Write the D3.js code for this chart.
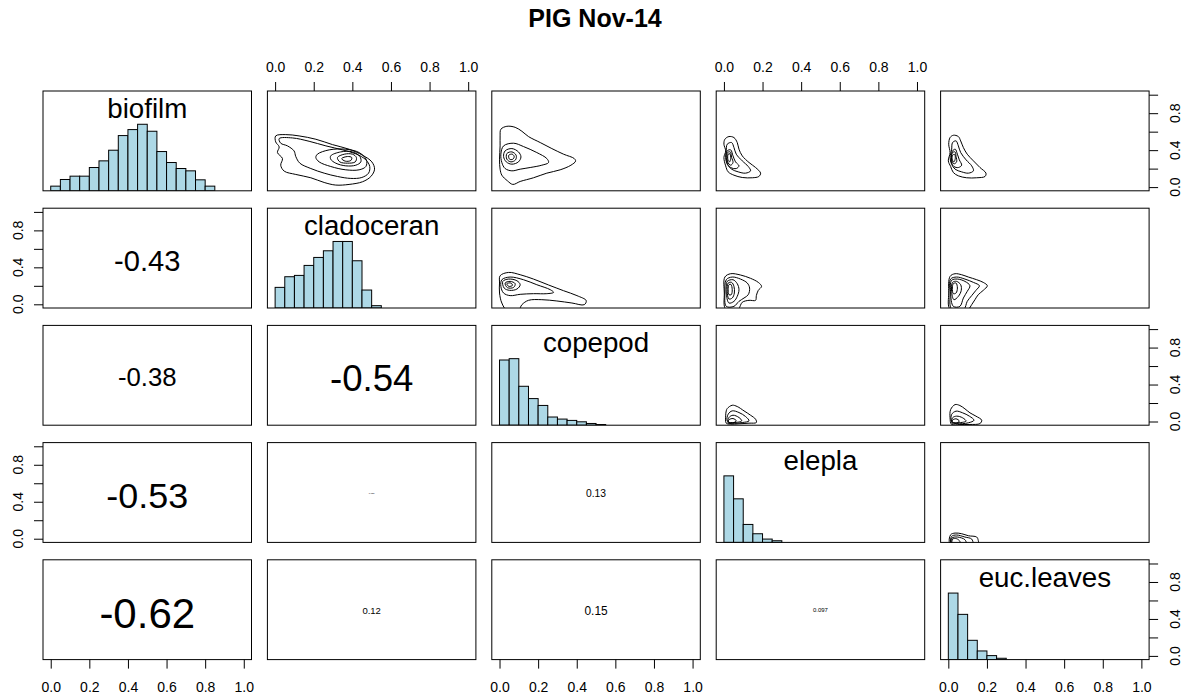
<!DOCTYPE html>
<html><head><meta charset="utf-8">
<script src="https://cdn.jsdelivr.net/npm/d3@7"></script>
<style>
body{margin:0;background:#fff}
svg{display:block}
text{font-family:"Liberation Sans",Arial,Helvetica,sans-serif;fill:#000}
</style>
</head><body>
<svg id="chart" width="1190" height="698"></svg>
<script>
// ---------------- data ----------------
const title = "PIG Nov-14";
const variables = ["biofilm", "cladoceran", "copepod", "elepla", "euc.leaves"];
const tickValues = [0, 0.2, 0.4, 0.6, 0.8, 1.0];
const xTickLabels = ["0.0", "0.2", "0.4", "0.6", "0.8", "1.0"];
const yLabelValues = [0, 0.4, 0.8];
const yTickLabels = ["0.0", "0.4", "0.8"];

// histograms: bin width 0.05 starting at 0, relative counts (max = 100)
const histBreakWidth = 0.05;
const histBiofilm = [7, 17, 22, 22, 35, 45, 61, 83, 92, 100, 89.5, 59, 42.5, 33.5, 30, 16.5, 7];
const histCladoceran = [31, 47, 49, 64, 76, 86, 100, 100, 71, 27, 3.5];
const histCopepod = [98, 100, 58.5, 40, 29.7, 12.3, 9.2, 7.2, 5.1, 2.6, 1];
const histElepla = [100, 65.5, 27, 13, 5, 2.5];
const histEucLeaves = [100, 68, 29, 13, 6, 2];

// lower panels: correlations (row, col)
const corRows = [1, 2, 2, 3, 3, 3, 4, 4, 4, 4];
const corCols = [0, 0, 1, 0, 1, 2, 0, 1, 2, 3];
const corValues = [-0.43, -0.38, -0.54, -0.53, 0.039, 0.13, -0.62, 0.12, 0.15, 0.097];
const corLabels = ["-0.43", "-0.38", "-0.54", "-0.53", "0.039", "0.13", "-0.62", "0.12", "0.15", "0.097"];

// upper panels: 2D density contour rings, [x, y] in data units
const contourBiofilmCladoceran = [
  [[0.003,0.554],[0.055,0.568],[0.124,0.554],[0.211,0.518],[0.297,0.460],[0.383,0.410],[0.453,0.345],[0.501,0.273],[0.515,0.194],[0.496,0.115],[0.453,0.058],[0.383,0.029],[0.314,0.022],[0.254,0.050],[0.185,0.101],[0.107,0.137],[0.047,0.173],[0.029,0.237],[0.038,0.309],[0.012,0.374],[0.021,0.435],[0.003,0.489]],
  [[0.021,0.525],[0.090,0.532],[0.176,0.496],[0.263,0.446],[0.349,0.403],[0.418,0.360],[0.470,0.295],[0.490,0.223],[0.484,0.151],[0.449,0.104],[0.392,0.094],[0.323,0.115],[0.254,0.151],[0.185,0.201],[0.128,0.259],[0.107,0.331],[0.098,0.392],[0.064,0.446],[0.029,0.475]],
  [[0.219,0.356],[0.280,0.403],[0.366,0.410],[0.435,0.374],[0.473,0.295],[0.470,0.223],[0.435,0.187],[0.366,0.187],[0.288,0.223],[0.228,0.273],[0.211,0.320]],
  [[0.288,0.338],[0.340,0.381],[0.401,0.381],[0.439,0.331],[0.444,0.273],[0.418,0.237],[0.366,0.230],[0.314,0.259],[0.288,0.302]],
  [[0.323,0.320],[0.358,0.356],[0.401,0.356],[0.421,0.320],[0.415,0.273],[0.375,0.259],[0.335,0.273]],
  [[0.345,0.309],[0.375,0.331],[0.397,0.320],[0.392,0.288],[0.363,0.281]]
];
const contourBiofilmCopepod = [
  [[0.007,0.626],[0.038,0.658],[0.081,0.647],[0.116,0.604],[0.150,0.547],[0.211,0.482],[0.271,0.417],[0.332,0.356],[0.387,0.309],[0.394,0.281],[0.370,0.237],[0.314,0.187],[0.245,0.151],[0.176,0.101],[0.107,0.061],[0.069,0.029],[0.041,0.068],[0.012,0.129],[0.003,0.194],[0.000,0.302],[0.003,0.446],[0.003,0.554]],
  [[0.021,0.446],[0.073,0.475],[0.124,0.439],[0.193,0.374],[0.245,0.309],[0.254,0.266],[0.219,0.237],[0.159,0.212],[0.107,0.194],[0.064,0.176],[0.029,0.201],[0.012,0.266],[0.007,0.356]],
  [[0.029,0.392],[0.064,0.417],[0.098,0.381],[0.111,0.327],[0.098,0.273],[0.064,0.248],[0.035,0.273],[0.021,0.331]],
  [[0.038,0.363],[0.064,0.381],[0.086,0.345],[0.083,0.295],[0.059,0.273],[0.038,0.302]],
  [[0.048,0.345],[0.066,0.356],[0.076,0.331],[0.069,0.302],[0.052,0.302]]
];
const contourBiofilmElepla = [
  [[0.005,0.518],[0.026,0.547],[0.052,0.536],[0.069,0.482],[0.078,0.410],[0.095,0.338],[0.130,0.266],[0.164,0.212],[0.190,0.151],[0.181,0.115],[0.147,0.101],[0.095,0.104],[0.052,0.129],[0.022,0.165],[0.009,0.230],[0.000,0.320],[0.009,0.392],[0.000,0.464]],
  [[0.017,0.464],[0.040,0.482],[0.052,0.428],[0.064,0.356],[0.095,0.284],[0.126,0.223],[0.138,0.176],[0.112,0.151],[0.074,0.165],[0.040,0.194],[0.017,0.248],[0.009,0.320],[0.012,0.392]],
  [[0.017,0.392],[0.035,0.403],[0.047,0.338],[0.060,0.273],[0.078,0.230],[0.064,0.201],[0.035,0.212],[0.017,0.259],[0.012,0.320]],
  [[0.019,0.374],[0.033,0.381],[0.040,0.320],[0.047,0.266],[0.035,0.237],[0.019,0.273],[0.016,0.331]],
  [[0.022,0.356],[0.031,0.360],[0.035,0.309],[0.029,0.273],[0.021,0.295]]
];
const contourBiofilmEucLeaves = [
  [[0.009,0.536],[0.026,0.561],[0.052,0.547],[0.064,0.500],[0.078,0.428],[0.098,0.356],[0.130,0.284],[0.164,0.212],[0.195,0.151],[0.190,0.115],[0.147,0.101],[0.095,0.101],[0.052,0.122],[0.026,0.158],[0.012,0.223],[0.000,0.284],[0.009,0.374],[0.002,0.464]],
  [[0.022,0.482],[0.040,0.500],[0.052,0.446],[0.064,0.374],[0.092,0.295],[0.121,0.230],[0.130,0.176],[0.104,0.151],[0.069,0.165],[0.035,0.194],[0.017,0.248],[0.009,0.320],[0.017,0.403]],
  [[0.022,0.392],[0.036,0.410],[0.047,0.356],[0.057,0.295],[0.069,0.237],[0.052,0.212],[0.029,0.223],[0.016,0.273],[0.016,0.338]],
  [[0.022,0.374],[0.035,0.381],[0.040,0.331],[0.043,0.273],[0.029,0.252],[0.017,0.295],[0.017,0.345]],
  [[0.022,0.345],[0.033,0.353],[0.036,0.309],[0.029,0.273],[0.021,0.295]]
];
const contourCladoceranCopepod = [
  [[0.003,0.309],[0.047,0.345],[0.107,0.320],[0.176,0.273],[0.254,0.209],[0.332,0.147],[0.401,0.094],[0.449,0.040],[0.439,-0.004],[0.375,0.014],[0.297,0.036],[0.219,0.050],[0.150,0.043],[0.116,-0.004],[0.098,-0.065],[0.038,-0.065],[0.012,0.014],[0.000,0.122],[0.000,0.230]],
  [[0.012,0.266],[0.055,0.295],[0.124,0.266],[0.193,0.212],[0.263,0.158],[0.280,0.129],[0.245,0.115],[0.176,0.115],[0.107,0.108],[0.055,0.094],[0.021,0.122],[0.007,0.194]],
  [[0.017,0.248],[0.047,0.273],[0.090,0.255],[0.107,0.212],[0.090,0.165],[0.052,0.151],[0.024,0.176]],
  [[0.029,0.230],[0.055,0.248],[0.081,0.223],[0.073,0.183],[0.041,0.180]],
  [[0.038,0.223],[0.059,0.230],[0.067,0.205],[0.048,0.194]]
];
const contourCladoceranElepla = [
  [[0.005,0.295],[0.035,0.331],[0.086,0.317],[0.138,0.281],[0.178,0.237],[0.195,0.194],[0.178,0.151],[0.168,0.094],[0.164,0.043],[0.130,0.043],[0.095,0.022],[0.074,-0.050],[0.009,-0.050],[0.002,0.122]],
  [[0.012,0.266],[0.043,0.295],[0.086,0.273],[0.121,0.230],[0.133,0.176],[0.126,0.104],[0.104,0.068],[0.078,0.032],[0.052,-0.022],[0.012,-0.022],[0.005,0.122]],
  [[0.017,0.248],[0.047,0.266],[0.069,0.223],[0.078,0.158],[0.069,0.086],[0.052,0.032],[0.026,0.014],[0.012,0.122],[0.012,0.194]],
  [[0.022,0.230],[0.040,0.237],[0.052,0.194],[0.054,0.122],[0.043,0.068],[0.026,0.058],[0.017,0.140]],
  [[0.026,0.212],[0.036,0.216],[0.043,0.158],[0.038,0.104],[0.026,0.104],[0.022,0.158]]
];
const contourCladoceranEucLeaves = [
  [[0.009,0.302],[0.035,0.331],[0.069,0.320],[0.104,0.295],[0.147,0.266],[0.181,0.237],[0.202,0.201],[0.181,0.151],[0.155,0.104],[0.138,0.050],[0.121,-0.004],[0.104,-0.050],[0.009,-0.050],[0.002,0.122]],
  [[0.012,0.273],[0.043,0.295],[0.086,0.273],[0.130,0.237],[0.161,0.201],[0.143,0.151],[0.121,0.094],[0.098,0.032],[0.081,-0.050],[0.017,-0.050],[0.009,0.122]],
  [[0.017,0.259],[0.047,0.273],[0.086,0.248],[0.112,0.201],[0.098,0.140],[0.078,0.068],[0.060,-0.022],[0.026,-0.022],[0.012,0.122]],
  [[0.022,0.237],[0.043,0.248],[0.064,0.212],[0.067,0.151],[0.052,0.086],[0.029,0.050],[0.017,0.140]],
  [[0.026,0.223],[0.040,0.230],[0.047,0.176],[0.040,0.122],[0.026,0.115],[0.021,0.176]]
];
const contourCopepodElepla = [
  [[0.017,0.140],[0.043,0.176],[0.069,0.162],[0.104,0.115],[0.138,0.068],[0.164,0.025],[0.168,-0.011],[0.130,-0.018],[0.078,-0.025],[0.035,-0.029],[0.012,-0.018],[0.009,0.061],[0.012,0.115]],
  [[0.022,0.079],[0.043,0.115],[0.078,0.097],[0.112,0.054],[0.130,0.007],[0.095,-0.011],[0.043,-0.018],[0.017,0.007]],
  [[0.026,0.043],[0.047,0.068],[0.078,0.043],[0.092,0.007],[0.052,-0.011],[0.022,-0.004]],
  [[0.026,0.018],[0.047,0.032],[0.064,0.007],[0.043,-0.018],[0.022,-0.018]]
];
const contourCopepodEucLeaves = [
  [[0.012,0.129],[0.035,0.183],[0.060,0.173],[0.086,0.137],[0.112,0.094],[0.143,0.058],[0.173,0.014],[0.164,-0.022],[0.112,-0.032],[0.060,-0.032],[0.017,-0.032],[0.009,0.040]],
  [[0.017,0.076],[0.040,0.112],[0.074,0.094],[0.109,0.058],[0.133,0.014],[0.104,-0.014],[0.043,-0.022],[0.017,0.004]],
  [[0.022,0.040],[0.043,0.058],[0.074,0.040],[0.092,0.004],[0.043,-0.014],[0.019,-0.007]],
  [[0.022,0.014],[0.040,0.029],[0.057,0.004],[0.035,-0.022],[0.019,-0.022]]
];
const contourEleplaEucLeaves = [
  [[0.012,0.043],[0.035,0.061],[0.069,0.054],[0.104,0.032],[0.147,0.018],[0.155,-0.018],[0.155,-0.054],[0.009,-0.054]],
  [[0.017,0.025],[0.043,0.040],[0.086,0.018],[0.121,-0.004],[0.126,-0.054],[0.016,-0.054]],
  [[0.019,0.007],[0.047,0.018],[0.086,-0.011],[0.092,-0.054],[0.017,-0.054]],
  [[0.022,-0.004],[0.043,0.000],[0.060,-0.029],[0.060,-0.054],[0.021,-0.054]]
];

// ---------------- assembly ----------------
const histograms = [histBiofilm, histCladoceran, histCopepod, histElepla, histEucLeaves];
const contourPanels = [
  {row: 0, col: 1, rings: contourBiofilmCladoceran},
  {row: 0, col: 2, rings: contourBiofilmCopepod},
  {row: 0, col: 3, rings: contourBiofilmElepla},
  {row: 0, col: 4, rings: contourBiofilmEucLeaves},
  {row: 1, col: 2, rings: contourCladoceranCopepod},
  {row: 1, col: 3, rings: contourCladoceranElepla},
  {row: 1, col: 4, rings: contourCladoceranEucLeaves},
  {row: 2, col: 3, rings: contourCopepodElepla},
  {row: 2, col: 4, rings: contourCopepodEucLeaves},
  {row: 3, col: 4, rings: contourEleplaEucLeaves}
];

const left0 = 43, top0 = 91, pw = 208.5, ph = 99.8, gx = 15.9, gy = 17.4;
const n = variables.length;
const svg = d3.select("#chart");
const defs = svg.append("defs");

svg.append("text")
  .attr("x", 595).attr("y", 27.3)
  .attr("text-anchor", "middle")
  .attr("font-weight", "bold")
  .attr("font-size", 25)
  .text(title);

const px = j => left0 + j * (pw + gx);
const py = i => top0 + i * (ph + gy);
const x = d3.scaleLinear().domain([-0.04, 1.04]).range([0, pw]);
const y = d3.scaleLinear().domain([-0.04, 1.04]).range([ph, 0]);
const yHist = d3.scaleLinear().domain([0, 1.5]).range([ph, 0]);

const panels = {};
for (let i = 0; i < n; i++) {
  for (let j = 0; j < n; j++) {
    const g = svg.append("g").attr("transform", `translate(${px(j)},${py(i)})`);
    const id = `clip-${i}-${j}`;
    defs.append("clipPath").attr("id", id)
      .append("rect").attr("x", 0).attr("y", 0).attr("width", pw).attr("height", ph);
    const inner = g.append("g").attr("clip-path", `url(#${id})`);
    panels[`${i}-${j}`] = {g, inner};
  }
}

// diagonal: histograms + names
variables.forEach((name, k) => {
  const {g, inner} = panels[`${k}-${k}`];
  inner.selectAll("rect.bar").data(histograms[k]).join("rect")
    .attr("class", "bar")
    .attr("x", (d, b) => x(b * histBreakWidth))
    .attr("width", x(histBreakWidth) - x(0))
    .attr("y", d => yHist(d / 100))
    .attr("height", d => yHist(0) - yHist(d / 100))
    .attr("fill", "#ADD8E6")
    .attr("stroke", "#000")
    .attr("stroke-width", 1);
  g.append("text")
    .attr("x", pw / 2).attr("y", 27)
    .attr("text-anchor", "middle")
    .attr("font-size", 27.7)
    .text(name);
});

// upper: contours
const ringLine = d3.line()
  .x(d => x(d[0])).y(d => y(d[1]))
  .curve(d3.curveCatmullRomClosed.alpha(0.5));
contourPanels.forEach(p => {
  const {inner} = panels[`${p.row}-${p.col}`];
  inner.selectAll("path.ring").data(p.rings).join("path")
    .attr("class", "ring")
    .attr("d", ringLine)
    .attr("fill", "none")
    .attr("stroke", "#000")
    .attr("stroke-width", 1);
});

// lower: correlation text, width = 0.8*|r| user units
corValues.forEach((r, k) => {
  const {g} = panels[`${corRows[k]}-${corCols[k]}`];
  const t = g.append("text")
    .attr("text-anchor", "middle")
    .attr("font-size", 100)
    .text(corLabels[k]);
  const len100 = t.node().getComputedTextLength();
  const target = (x(0.8 * Math.abs(r)) - x(0));
  const fs = 100 * target / len100;
  t.attr("font-size", fs)
    .attr("x", x(0.5))
    .attr("y", y(0.5) + 0.43 * fs);
});

// borders
for (let i = 0; i < n; i++) for (let j = 0; j < n; j++) {
  panels[`${i}-${j}`].g.append("rect")
    .attr("x", 0).attr("y", 0).attr("width", pw).attr("height", ph)
    .attr("fill", "none").attr("stroke", "#000").attr("stroke-width", 1);
}

// axes
function styleAxis(sel) {
  sel.select(".domain").remove();
  sel.selectAll("line").attr("stroke", "#000");
  sel.selectAll("text").attr("font-size", 14).attr("font-family", null).attr("fill", "#000");
  sel.attr("font-family", null).attr("font-size", null);
}
for (let j = 0; j < n; j++) {
  if (j % 2 === 1) {
    const a = svg.append("g").attr("transform", `translate(${px(j)},${py(0)})`)
      .call(d3.axisTop(x).tickValues(tickValues).tickSize(9).tickPadding(10.3)
        .tickFormat((d, k) => xTickLabels[k]));
    styleAxis(a);
  } else {
    const a = svg.append("g").attr("transform", `translate(${px(j)},${py(n - 1) + ph})`)
      .call(d3.axisBottom(x).tickValues(tickValues).tickSize(9).tickPadding(13.5)
        .tickFormat((d, k) => xTickLabels[k]));
    styleAxis(a);
  }
}
for (let i = 0; i < n; i++) {
  const isLeft = i % 2 === 1;
  const ax = isLeft ? d3.axisLeft(y) : d3.axisRight(y);
  const a = svg.append("g")
    .attr("transform", `translate(${isLeft ? px(0) : px(n - 1) + pw},${py(i)})`)
    .call(ax.tickValues(tickValues).tickSize(9).tickFormat(() => ""));
  styleAxis(a);
  a.selectAll("text.ylab").data(yLabelValues).join("text")
    .attr("class", "ylab")
    .attr("font-size", 14)
    .attr("text-anchor", "middle")
    .attr("transform", d => `translate(${isLeft ? -19.7 : 31},${y(d)}) rotate(-90)`)
    .text((d, k) => yTickLabels[k]);
}
</script>
</body></html>
